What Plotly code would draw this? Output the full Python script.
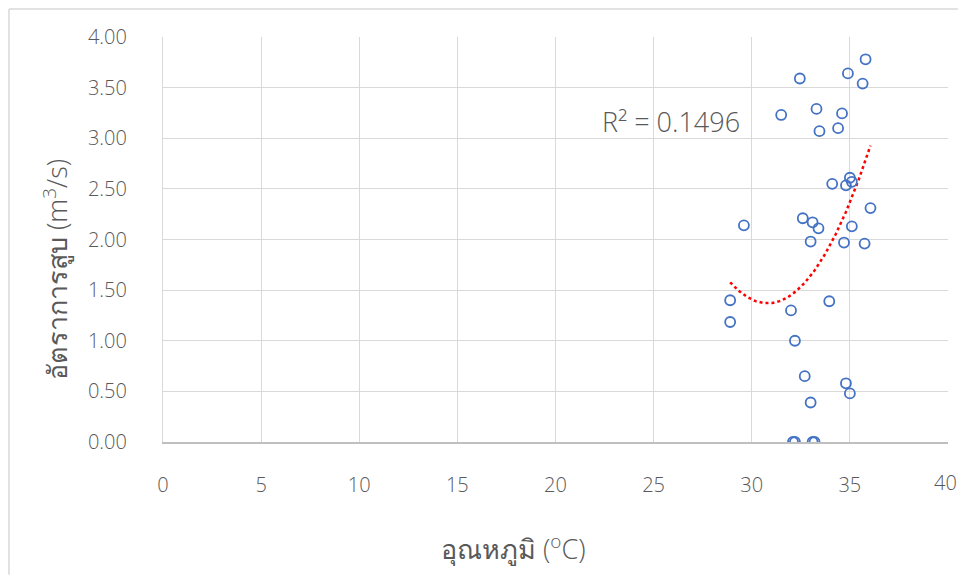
import numpy as np
import plotly.graph_objects as go

# Temperature (°C) and pumping rate (m3/s)
temperature = [28.9, 28.9, 29.6, 31.5, 32.45, 33.3, 33.45, 34.4, 34.6, 34.9, 35.8, 35.65,
               34.1, 34.8, 35.0, 35.1, 36.05, 32.6, 33.1, 33.4, 35.1, 33.0, 34.7, 35.75,
               32.0, 33.95, 32.2, 32.7, 34.8, 35.0, 33.0, 32.1, 32.2, 33.1, 33.2]
pump_rate = [1.40, 1.185, 2.14, 3.23, 3.59, 3.29, 3.07, 3.10, 3.245, 3.64, 3.78, 3.54,
             2.55, 2.535, 2.61, 2.57, 2.31, 2.21, 2.17, 2.11, 2.13, 1.98, 1.97, 1.96,
             1.30, 1.39, 1.00, 0.65, 0.58, 0.48, 0.39, 0.0, 0.0, 0.0, 0.0]

x_ticks = [0, 5, 10, 15, 20, 25, 30, 35, 40]
y_ticks = [0.0, 0.5, 1.0, 1.5, 2.0, 2.5, 3.0, 3.5, 4.0]
r2_label = "R² = 0.1496"

x_title = "อุณหภูมิ (<sup>o</sup>C)"
y_title = "อัตราการสูบ (m<sup>3</sup>/s)"

# Order-2 polynomial trendline fitted to the data
coef = np.polyfit(temperature, pump_rate, 2)
tx = np.linspace(min(temperature), max(temperature), 200)
ty = np.polyval(coef, tx)

TEXT = "#595959"
font_family = "Open Sans, Noto Sans, sans-serif"

fig = go.Figure()
fig.add_trace(go.Scatter(
    x=tx, y=ty, mode="lines",
    line=dict(color="#FF0000", width=2.5, dash="dot"),
    hoverinfo="skip", showlegend=False))
fig.add_trace(go.Scatter(
    x=temperature, y=pump_rate, mode="markers",
    marker=dict(symbol="circle-open", size=10, color="#4472C4", line=dict(width=1.8)),
    showlegend=False))

fig.add_annotation(x=29.5, y=3.17, xref="x", yref="y", text=r2_label,
                   showarrow=False, xanchor="right", yanchor="middle",
                   font=dict(size=27, color=TEXT, weight=300))

# Axis titles (placed as in the reference, off-centre of the plot area)
fig.add_annotation(x=0.4459, y=-0.2617, xref="paper", yref="paper", text=x_title,
                   showarrow=False, xanchor="center", yanchor="middle",
                   font=dict(size=27, color=TEXT, weight=300))
fig.add_annotation(x=-0.1376, y=0.427, xref="paper", yref="paper", text=y_title,
                   showarrow=False, xanchor="center", yanchor="middle", textangle=-90,
                   font=dict(size=27, color=TEXT, weight=300))

# Last x tick label, drawn inside the figure edge so it is not hidden
fig.add_annotation(x=1.0127, y=-0.0988, xref="paper", yref="paper", text=str(x_ticks[-1]),
                   showarrow=False, xanchor="right", yanchor="middle", borderpad=0,
                   font=dict(size=20, color=TEXT, weight=300))

fig.update_layout(
    width=950, height=567,
    margin=dict(l=155, r=10, t=29, b=133),
    paper_bgcolor="white", plot_bgcolor="white",
    font=dict(family=font_family, color=TEXT),
    xaxis=dict(range=[0, 40], tickvals=x_ticks, showgrid=True, gridcolor="#D9D9D9",
               gridwidth=1.2, zeroline=False, showline=True, linecolor="#BFBFBF",
               linewidth=1.5, ticks="", ticklabelstandoff=24,
               tickfont=dict(size=20, color=TEXT, weight=300)),
    yaxis=dict(range=[0, 4], tickvals=y_ticks, tickformat=".2f", showgrid=True,
               gridcolor="#D9D9D9", gridwidth=1.2, zeroline=False, showline=True,
               linecolor="#D9D9D9", linewidth=1.2, ticks="", ticklabelstandoff=31,
               tickfont=dict(size=20, color=TEXT, weight=300)),
)

# Outer chart frame (top and left edges visible)
fig.add_shape(type="line", xref="paper", yref="paper", x0=-0.1962, x1=1.0127, y0=1.069, y1=1.069,
              line=dict(color="#D9D9D9", width=1.5))
fig.add_shape(type="line", xref="paper", yref="paper", x0=-0.1962, x1=-0.1962, y0=-0.328, y1=1.069,
              line=dict(color="#D9D9D9", width=1.5))

fig.write_html("out.html", config={"displayModeBar": False})
